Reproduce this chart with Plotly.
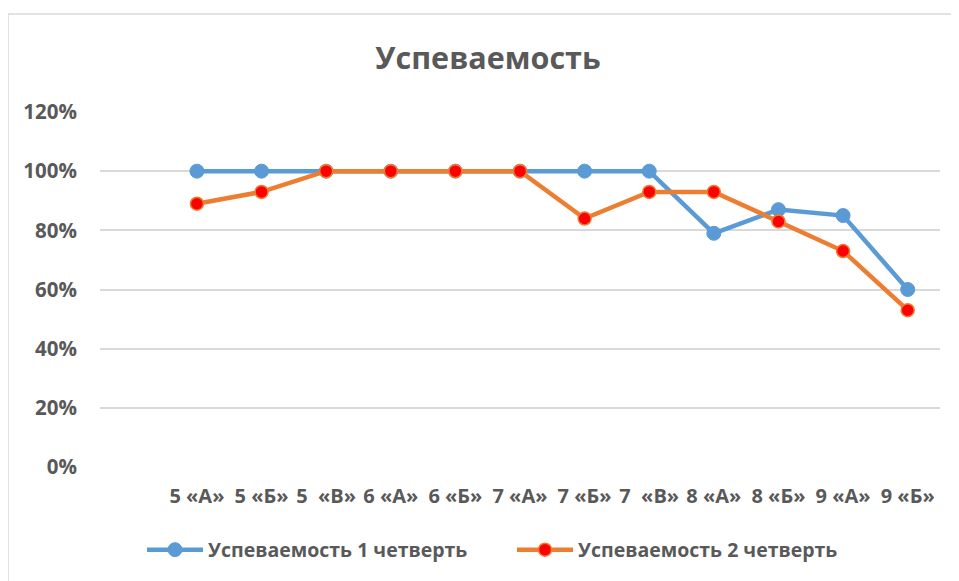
import plotly.graph_objects as go

categories = ["", "5 «А»", "5 «Б»", "5\u00a0\u00a0«В»", "6 «А»", "6 «Б»", "7 «А»",
              "7 «Б»", "7\u00a0\u00a0«В»", "8 «А»", "8 «Б»", "9 «А»", "9 «Б»"]
q1 = [None, 1.00, 1.00, 1.00, 1.00, 1.00, 1.00, 1.00, 1.00, 0.79, 0.87, 0.85, 0.60]
q2 = [None, 0.89, 0.93, 1.00, 1.00, 1.00, 1.00, 0.84, 0.93, 0.93, 0.83, 0.73, 0.53]
series_names = ["Успеваемость 1 четверть", "Успеваемость 2 четверть"]
title_text = "Успеваемость"
y_ticks = [0, 0.2, 0.4, 0.6, 0.8, 1.0, 1.2]

FONT = "Open Sans"
GRAY = "#595959"

# the page body adds an 8px offset; compensate by working in shifted coords
OFF = 8
W, H = 959 - OFF, 581 - OFF
ml, mt = 100 - OFF, 112 - OFF
mr = W - (940 - OFF)
mb = H - (467 - OFF)
pw, ph = W - ml - mr, H - mt - mb

px2x = lambda p: (p - OFF - ml) / pw
px2y = lambda p: (H - mb - (p - OFF)) / ph

fig = go.Figure()
fig.add_trace(go.Scatter(
    x=categories, y=q1, name=series_names[0], mode="lines+markers",
    line=dict(color="#5B9BD5", width=4.5),
    marker=dict(color="#5B9BD5", size=14, line=dict(color="#5B9BD5", width=1)),
))
fig.add_trace(go.Scatter(
    x=categories, y=q2, name=series_names[1], mode="lines+markers",
    line=dict(color="#ED7D31", width=4.5),
    marker=dict(color="#FF0000", size=13, line=dict(color="#ED7D31", width=1.5)),
))

fig.update_layout(
    width=W, height=H,
    margin=dict(l=ml, r=mr, t=mt, b=mb, autoexpand=False),
    paper_bgcolor="white", plot_bgcolor="white",
    font=dict(family=FONT, color=GRAY, size=16),
    title=dict(text="<b>" + title_text + "</b>", x=(488 - OFF) / W, xanchor="center",
               y=1 - (58 - OFF) / H, yanchor="middle", xref="container", yref="container",
               font=dict(family=FONT, size=30.5, color=GRAY)),
    xaxis=dict(type="category", range=[-0.5, 12.5], showgrid=False, zeroline=False,
               showline=False, ticks="", tickangle=0,
               tickfont=dict(family=FONT, size=20, color=GRAY, weight="bold"),
               ticklabelstandoff=15, fixedrange=True),
    yaxis=dict(range=[0, 1.2], tickvals=y_ticks, tickformat=".0%", showgrid=True,
               gridcolor="#D9D9D9", gridwidth=1.5, zeroline=False, showline=False,
               tickfont=dict(family=FONT, size=20.5, color=GRAY, weight="bold"),
               ticklabelstandoff=22, fixedrange=True),
    legend=dict(orientation="h", x=px2x(142), xanchor="left", y=px2y(550), yanchor="middle",
                font=dict(family=FONT, size=19.5, color=GRAY, weight="bold"),
                itemwidth=56, entrywidth=299, entrywidthmode="pixels", bgcolor="rgba(0,0,0,0)"),
    shapes=[dict(type="rect", xref="paper", yref="paper",
                 x0=px2x(8), x1=px2x(1000), y0=px2y(620), y1=px2y(14),
                 line=dict(color="#D9D9D9", width=1.5), fillcolor="rgba(0,0,0,0)", layer="below")],
    showlegend=True,
)

fig.write_html("out.html")
